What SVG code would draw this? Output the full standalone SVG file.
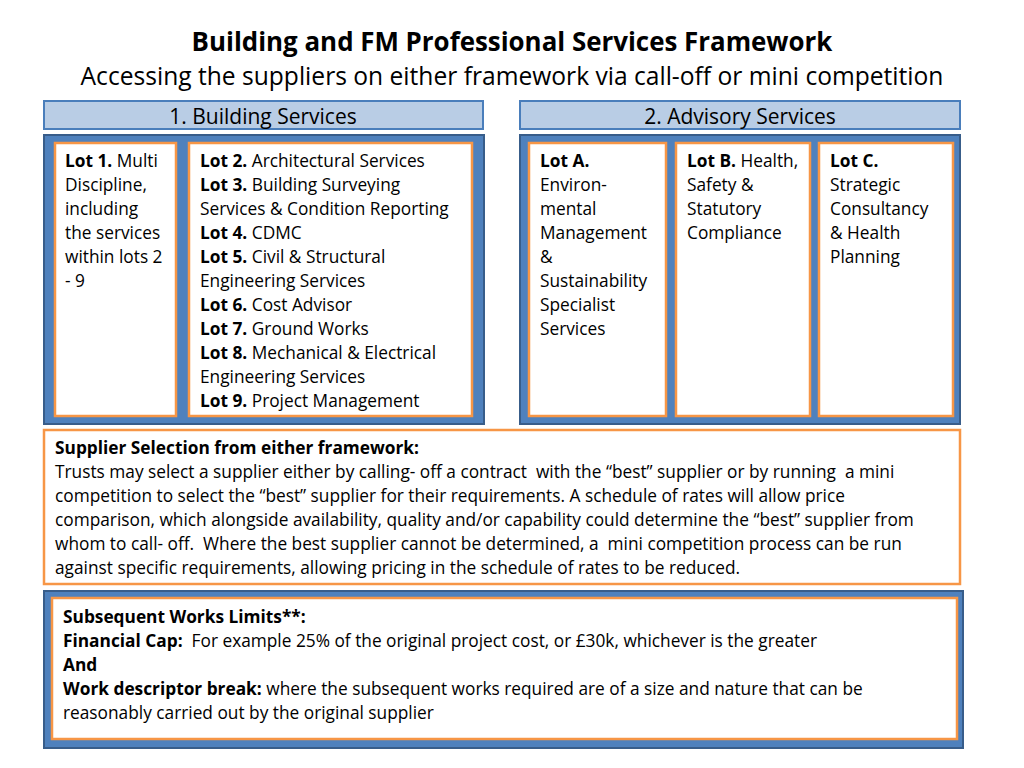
<svg xmlns="http://www.w3.org/2000/svg" width="1024" height="768" viewBox="0 0 1024 768">
<style>
text{font-family:"Open Sans","Liberation Sans",sans-serif;fill:#000}
.t{font-size:17.3px}
.b{font-weight:bold}
.hdr{fill:#b9cde5;stroke:#4a7ebb;stroke-width:2}
.frame{fill:#4f81bd;stroke:#385d8a;stroke-width:2}
.box{fill:#fff;stroke:#f79646;stroke-width:2.5}
.h{font-size:21px}
</style>
<rect width="1024" height="768" fill="#fff"/>
<g id="title">
<text x="512" y="51" text-anchor="middle" class="b" font-size="25.9">Building and FM Professional Services Framework</text>
<text x="512" y="85" text-anchor="middle" font-size="24.6">Accessing the suppliers on either framework via call-off or mini competition</text>
</g>
<g id="building-services">
<rect class="hdr" x="44" y="101" width="439" height="28"/>
<text class="h" x="263" y="124" text-anchor="middle">1. Building Services</text>
<rect class="frame" x="44" y="135" width="440" height="289"/>
<g id="lot1">
<rect class="box" x="55" y="143" width="121" height="273"/>
<text class="t" x="65" y="167"><tspan class="b">Lot 1.</tspan> Multi</text>
<text class="t" x="65" y="191">Discipline,</text>
<text class="t" x="65" y="215">including</text>
<text class="t" x="65" y="239">the services</text>
<text class="t" x="65" y="263">within lots 2</text>
<text class="t" x="65" y="287">- 9</text>
</g>
<g id="lots2-9">
<rect class="box" x="189" y="143" width="283" height="273"/>
<text class="t" x="200" y="167"><tspan class="b">Lot 2.</tspan> Architectural Services</text>
<text class="t" x="200" y="191"><tspan class="b">Lot 3.</tspan> Building Surveying</text>
<text class="t" x="200" y="215">Services &amp; Condition Reporting</text>
<text class="t" x="200" y="239"><tspan class="b">Lot 4.</tspan> CDMC</text>
<text class="t" x="200" y="263"><tspan class="b">Lot 5.</tspan> Civil &amp; Structural</text>
<text class="t" x="200" y="287">Engineering Services</text>
<text class="t" x="200" y="311"><tspan class="b">Lot 6.</tspan> Cost Advisor</text>
<text class="t" x="200" y="335"><tspan class="b">Lot 7.</tspan> Ground Works</text>
<text class="t" x="200" y="359"><tspan class="b">Lot 8.</tspan> Mechanical &amp; Electrical</text>
<text class="t" x="200" y="383">Engineering Services</text>
<text class="t" x="200" y="407"><tspan class="b">Lot 9.</tspan> Project Management</text>
</g>
</g>
<g id="advisory-services">
<rect class="hdr" x="520" y="101" width="440" height="28"/>
<text class="h" x="740" y="124" text-anchor="middle">2. Advisory Services</text>
<rect class="frame" x="520" y="135" width="440" height="289"/>
<g id="lotA">
<rect class="box" x="529" y="143" width="137" height="273"/>
<text class="t b" x="540" y="167">Lot A.</text>
<text class="t" x="540" y="191">Environ-</text>
<text class="t" x="540" y="215">mental</text>
<text class="t" x="540" y="239">Management</text>
<text class="t" x="540" y="263">&amp;</text>
<text class="t" x="540" y="287">Sustainability</text>
<text class="t" x="540" y="311">Specialist</text>
<text class="t" x="540" y="335">Services</text>
</g>
<g id="lotB">
<rect class="box" x="676" y="143" width="134" height="273"/>
<text class="t" x="687" y="167"><tspan class="b">Lot B.</tspan> Health,</text>
<text class="t" x="687" y="191">Safety &amp;</text>
<text class="t" x="687" y="215">Statutory</text>
<text class="t" x="687" y="239">Compliance</text>
</g>
<g id="lotC">
<rect class="box" x="819" y="143" width="134" height="273"/>
<text class="t b" x="830" y="167">Lot C.</text>
<text class="t" x="830" y="191">Strategic</text>
<text class="t" x="830" y="215">Consultancy</text>
<text class="t" x="830" y="239">&amp; Health</text>
<text class="t" x="830" y="263">Planning</text>
</g>
</g>
<g id="supplier-selection">
<rect class="box" x="44" y="430" width="916" height="154"/>
<text class="t b" x="55" y="454">Supplier Selection from either framework:</text>
<text class="t" x="55" y="478" xml:space="preserve">Trusts may select a supplier either by calling- off a contract  with the “best” supplier or by running  a mini</text>
<text class="t" x="55" y="502">competition to select the “best” supplier for their requirements.  A schedule of rates will allow price</text>
<text class="t" x="55" y="526">comparison, which alongside availability, quality and/or capability could determine the “best” supplier from</text>
<text class="t" x="55" y="550" xml:space="preserve">whom to call- off.  Where the best supplier cannot be determined, a  mini competition process can be run</text>
<text class="t" x="55" y="574">against specific requirements, allowing pricing in the schedule of rates to be reduced.</text>
</g>
<g id="subsequent-works">
<rect class="frame" x="44" y="591" width="919" height="157"/>
<rect class="box" x="52" y="598" width="905" height="141"/>
<text class="t b" x="63" y="623">Subsequent Works Limits**:</text>
<text class="t" x="63" y="647" xml:space="preserve"><tspan class="b">Financial Cap:</tspan>  For example 25% of the original project cost, or £30k, whichever is the greater</text>
<text class="t b" x="63" y="671">And</text>
<text class="t" x="63" y="695"><tspan class="b">Work descriptor break:</tspan> where the subsequent works required are of a size and nature that can be</text>
<text class="t" x="63" y="719">reasonably carried out by the original supplier</text>
</g>
</svg>
